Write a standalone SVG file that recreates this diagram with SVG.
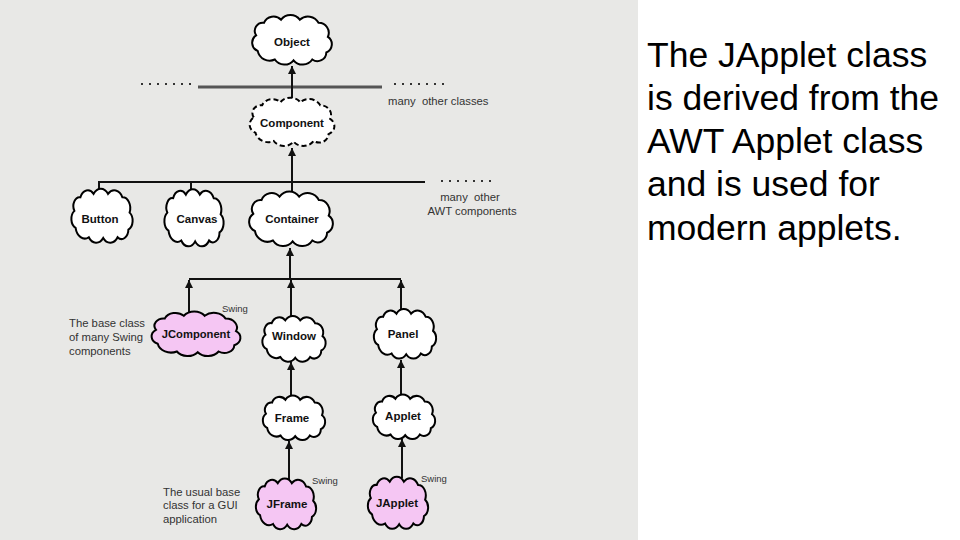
<svg xmlns="http://www.w3.org/2000/svg" xmlns:xlink="http://www.w3.org/1999/xlink" width="960" height="540" viewBox="0 0 960 540">
<style>
.cl{stroke:#000;stroke-width:2;vector-effect:non-scaling-stroke;fill:inherit}
.w{fill:#fff}
.p{fill:#f5c6f3}
.d{stroke-dasharray:5 3}
.lb{font-family:"Liberation Sans",Arial,sans-serif;font-weight:bold;font-size:11.5px;fill:#111;text-anchor:middle}
.sm{font-family:"Liberation Sans",Arial,sans-serif;font-size:11.3px;fill:#333;white-space:pre}
.sw{font-family:"Liberation Sans",Arial,sans-serif;font-size:9.5px;fill:#333}
.ln{stroke:#111;stroke-width:2;fill:none}
.ar{stroke:#111;stroke-width:2;fill:none;marker-end:url(#ah)}
.dot{stroke:#333;stroke-width:2;stroke-dasharray:2 6;fill:none}
.big{font-family:"Liberation Sans",Arial,sans-serif;font-size:35.5px;fill:#000}
</style>
<defs>
<marker id="ah" viewBox="0 0 10 10" refX="10" refY="5" markerWidth="4" markerHeight="4.5" orient="auto" markerUnits="strokeWidth">
<path d="M0,0 L10,5 L0,10 Z" fill="#111"/>
</marker>
<path id="cloud" class="cl" d="M-46,-6 A10.4 10.4 0 0 1 -36,-22 A13.4 13.4 0 0 1 -14,-26 A15 15 0 0 1 10,-26 A15.3 15.3 0 0 1 34,-22 A12.8 12.8 0 0 1 46,-4 A11.4 11.4 0 0 1 44,16 A11.4 11.4 0 0 1 26,25 A15 15 0 0 1 2,26 A15 15 0 0 1 -22,25 A15.6 15.6 0 0 1 -44,14 A11.4 11.4 0 0 1 -46,-6 Z"/>
</defs>
<rect x="0" y="0" width="960" height="540" fill="#fff"/>
<rect x="0" y="0" width="638" height="540" fill="#e8e8e6"/>

<g id="connectors">
<line class="dot" x1="141" y1="84" x2="192" y2="84"/>
<line x1="198" y1="87" x2="382" y2="87" stroke="#555" stroke-width="3"/>
<line class="dot" x1="394" y1="84" x2="445" y2="84"/>
<line class="ar" x1="292" y1="100" x2="292" y2="66"/>
<line class="ar" x1="292" y1="193" x2="292" y2="148"/>
<line class="ln" x1="99" y1="182" x2="425" y2="182"/>
<line class="dot" x1="441" y1="181" x2="495" y2="181"/>
<line class="ln" x1="99" y1="181" x2="99" y2="197"/>
<line class="ln" x1="191" y1="181" x2="191" y2="197"/>
<line class="ar" x1="290" y1="279" x2="290" y2="248"/>
<line class="ln" x1="189" y1="279" x2="401" y2="279"/>
<line class="ar" x1="189" y1="314" x2="189" y2="280"/>
<line class="ar" x1="291" y1="317" x2="291" y2="280"/>
<line class="ar" x1="401" y1="312" x2="401" y2="280"/>
<line class="ar" x1="291" y1="398" x2="291" y2="362"/>
<line class="ar" x1="401" y1="397" x2="401" y2="360"/>
<line class="ar" x1="289" y1="480" x2="289" y2="441"/>
<line class="ar" x1="402" y1="478" x2="402" y2="439"/>
</g>

<g id="object"><use xlink:href="#cloud" class="w" transform="translate(292,40) scale(0.78,0.78)"/><text class="lb" x="292" y="46">Object</text></g>
<g id="component"><use xlink:href="#cloud" class="w d" transform="translate(292,122) scale(0.83,0.76)"/><text class="lb" x="292" y="127">Component</text></g>
<g id="button"><use xlink:href="#cloud" class="w" transform="translate(102,216) scale(0.6,0.85)"/><text class="lb" x="100" y="223">Button</text></g>
<g id="canvas"><use xlink:href="#cloud" class="w" transform="translate(194,218) scale(0.58,0.9)"/><text class="lb" x="197" y="223">Canvas</text></g>
<g id="container"><use xlink:href="#cloud" class="w" transform="translate(291,219) scale(0.82,0.86)"/><text class="lb" x="292" y="223">Container</text></g>
<g id="jcomponent"><use xlink:href="#cloud" class="p" transform="translate(196,334) scale(0.87,0.7)"/><text class="lb" x="196" y="338" style="font-size:11.2px">JComponent</text></g>
<g id="window"><use xlink:href="#cloud" class="w" transform="translate(294,339) scale(0.62,0.72)"/><text class="lb" x="294" y="340">Window</text></g>
<g id="panel"><use xlink:href="#cloud" class="w" transform="translate(405,334) scale(0.61,0.78)"/><text class="lb" x="403" y="338">Panel</text></g>
<g id="frame"><use xlink:href="#cloud" class="w" transform="translate(294,418) scale(0.61,0.7)"/><text class="lb" x="292" y="422">Frame</text></g>
<g id="applet"><use xlink:href="#cloud" class="w" transform="translate(404,417) scale(0.61,0.7)"/><text class="lb" x="403" y="420">Applet</text></g>
<g id="jframe"><use xlink:href="#cloud" class="p" transform="translate(286,504) scale(0.59,0.8)"/><text class="lb" x="287" y="508">JFrame</text></g>
<g id="japplet"><use xlink:href="#cloud" class="p" transform="translate(398,503) scale(0.59,0.82)"/><text class="lb" x="397" y="507">JApplet</text></g>

<g id="labels">
<text class="sm" x="388" y="105">many  other classes</text>
<text class="sm" x="470" y="201" text-anchor="middle">many  other</text>
<text class="sm" x="472" y="215" text-anchor="middle">AWT components</text>
<text class="sw" x="222" y="312">Swing</text>
<text class="sm" x="69" y="327">The base class</text>
<text class="sm" x="69" y="341">of many Swing</text>
<text class="sm" x="69" y="355">components</text>
<text class="sw" x="312" y="484">Swing</text>
<text class="sw" x="421" y="482">Swing</text>
<text class="sm" x="163" y="496">The usual base</text>
<text class="sm" x="163" y="509">class for a GUI</text>
<text class="sm" x="163" y="523">application</text>
</g>

<g id="caption">
<text class="big" x="647" y="67">The JApplet class</text>
<text class="big" x="647" y="110">is derived from the</text>
<text class="big" x="647" y="153">AWT Applet class</text>
<text class="big" x="647" y="196">and is used for</text>
<text class="big" x="647" y="240">modern applets.</text>
</g>
</svg>
